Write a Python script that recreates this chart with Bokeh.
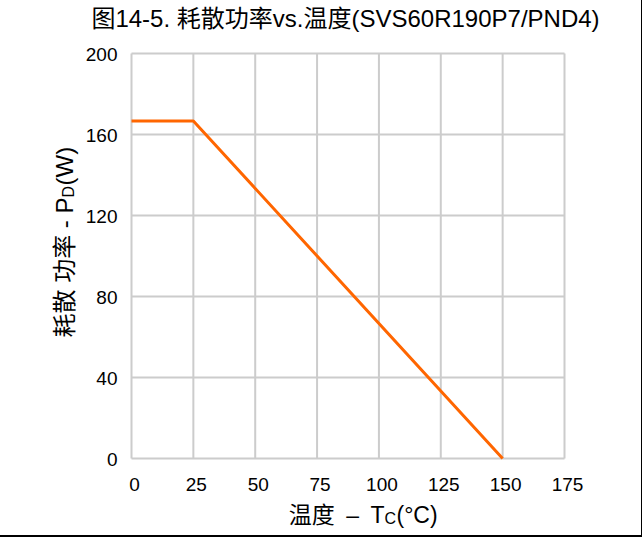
import math
from bokeh.plotting import figure
from bokeh.models import Range1d, Label
from bokeh.core.properties import value
from bokeh.embed import file_html
from bokeh.resources import INLINE

# ---- data ----
temps = [0, 25, 150]
power = [166.7, 166.7, 0]
x_ticks = [0, 25, 50, 75, 100, 125, 150, 175]
y_ticks = [0, 40, 80, 120, 160, 200]
x_tick_labels = [str(t) for t in x_ticks]
y_tick_labels = [str(t) for t in y_ticks]
title_text = "图14-5. 耗散功率vs.温度(SVS60R190P7/PND4)"
xlabel_main = "温度\u2002–\u2002T"
xlabel_sub = "C"
xlabel_tail = "(°C)"
ylabel_main = "耗散 功率 - P"
ylabel_sub = "D"
ylabel_tail = "(W)"

# ---- layout (canvas pixels, origin top-left) ----
W, H = 642, 537
FL, FR, FT, FB = 131, 564, 53, 458
XMIN, XMAX = x_ticks[0], x_ticks[-1]
YMIN, YMAX = y_ticks[0], y_ticks[-1]

FONT = "'Liberation Sans', 'Noto Sans CJK SC'"
GRID = "#cccccc"


def dx(px):
    return XMIN + (px - FL) / (FR - FL) * (XMAX - XMIN)


def dy(py):
    return YMIN + (FB - py) / (FB - FT) * (YMAX - YMIN)


PXY = (YMAX - YMIN) / (FB - FT)  # data units per pixel (y)

p = figure(width=W, height=H, output_backend="svg", toolbar_location=None,
           title=None, x_axis_location=None, y_axis_location=None,
           x_range=Range1d(dx(0), dx(W)), y_range=Range1d(dy(H), dy(0)),
           min_border=0, min_border_left=0, min_border_right=0,
           min_border_top=0, min_border_bottom=0)
p.styles = {"border-right": "1px solid #000", "border-bottom": "2px solid #000"}
p.outline_line_color = None
p.grid.visible = False

# grid lines and frame
p.segment(x0=x_ticks, y0=[YMIN] * len(x_ticks), x1=x_ticks, y1=[YMAX] * len(x_ticks),
          line_color=GRID, line_width=2)
p.segment(x0=[XMIN] * len(y_ticks), y0=y_ticks, x1=[XMAX] * len(y_ticks), y1=y_ticks,
          line_color=GRID, line_width=2)

# data line
p.line(temps, power, line_color="#ff6600", line_width=3)

# tick labels
p.text(x=x_ticks, y=[dy(484)] * len(x_ticks), text=x_tick_labels, x_offset=3,
       text_align="center", text_baseline="alphabetic",
       text_font=value("Liberation Sans"), text_font_size="19px", text_color="#000000")
p.text(x=[dx(117)] * len(y_ticks), y=[t - 0.5 * PXY for t in y_ticks], text=y_tick_labels,
       text_align="right", text_baseline="alphabetic",
       text_font=value("Liberation Sans"), text_font_size="19px", text_color="#000000")


def lab(text, px, py, size, align="left", angle=0.0):
    p.add_layout(Label(x=dx(px), y=dy(py), text=text, text_font=FONT,
                       text_font_size=size, text_color="#000000",
                       text_align=align, text_baseline="alphabetic", angle=angle))


# title
lab(title_text, 345, 18, "24px", align="center")

# x axis label
xa = 384
lab(xlabel_main, xa, 514, "23px", align="right")
lab(xlabel_sub, xa, 518, "16px", align="left")
lab(xlabel_tail, xa + 12, 514, "23px", align="left")

# y axis label (rotated, reads upward)
ya = 197
lab(ylabel_main, 64, ya, "24px", align="right", angle=math.pi / 2)
lab(ylabel_sub, 68, ya, "16px", align="left", angle=math.pi / 2)
lab(ylabel_tail, 64, ya - 12, "24px", align="left", angle=math.pi / 2)

open("out.html", "w").write(file_html(p, INLINE))
